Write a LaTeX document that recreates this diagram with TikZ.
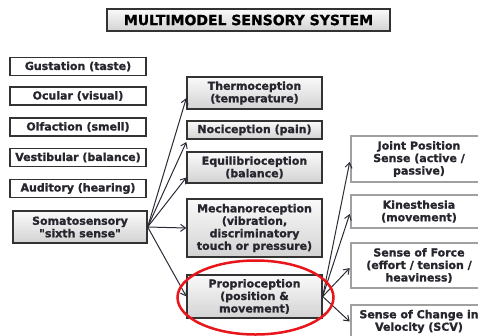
\documentclass[tikz,border=0pt]{standalone}
\usepackage{fontspec}
\newfontfamily\boxfont{DejaVu Sans Bold}[FakeBold=1.2]
\usetikzlibrary{arrows.meta}

\definecolor{boxline}{HTML}{333333}
\definecolor{boxtext}{HTML}{26262E}
\definecolor{arrowline}{HTML}{2B2B38}
\definecolor{paleline}{HTML}{A0A0A0}
\definecolor{ringred}{HTML}{E8161B}

\tikzset{
  sense/.style={draw=boxline, line width=1.3pt, fill=white, minimum width=136pt,
    inner sep=0pt, align=center, text=boxtext,
    font=\boxfont\fontsize{11}{12.5}\selectfont},
  shadedbox/.style={sense, top color=gray!4, bottom color=gray!35},
  subsense/.style={sense, draw=paleline, line width=2.6pt},
  link/.style={draw=arrowline, line width=1pt, -{Straight Barb[length=5pt,width=7pt]}}
}

\begin{document}
\begin{tikzpicture}[x=1pt,y=-1pt]
  % Boundary
  \useasboundingbox (0,0) rectangle (478,335);
  \clip (0,0) rectangle (478,335);
  % Title
  \node[shadedbox, minimum width=283pt, minimum height=22pt,
    font=\boxfont\fontsize{14}{16}\selectfont, text=black] (title) at (248.5,20) {MULTIMODEL SENSORY SYSTEM};
  % Senses
  \node[sense, minimum height=18pt] (gust) at (78,66.5) {Gustation (taste)};
  \node[sense, minimum height=18pt] (ocul) at (78,96) {Ocular (visual)};
  \node[sense, minimum height=18pt] (olfa) at (78,127) {Olfaction (smell)};
  \node[sense, minimum height=18pt] (vest) at (78,157.5) {Vestibular (balance)};
  \node[sense, minimum height=18pt] (audi) at (78,188.5) {Auditory (hearing)};
  \node[shadedbox, minimum width=134pt, minimum height=32pt] (soma) at (80,227) {Somatosensory\\"sixth sense"};
  % Somatosensory branches
  \node[shadedbox, minimum width=135pt, minimum height=32pt] (thermo) at (254.5,93) {Thermoception\\(temperature)};
  \node[shadedbox, minimum width=135pt, minimum height=18pt] (noci) at (254.5,130) {Nociception (pain)};
  \node[shadedbox, minimum width=135pt, minimum height=31pt] (equi) at (254.5,167.5) {Equilibrioception\\(balance)};
  \node[shadedbox, minimum width=135pt, minimum height=58pt] (mech) at (254.5,228) {Mechanoreception\\(vibration,\\discriminatory\\touch or pressure)};
  \node[shadedbox, minimum width=135pt, minimum height=43pt] (prop) at (254.5,296.5) {Proprioception\\(position \&\\movement)};
  % Proprioception branches
  \node[subsense, minimum height=46pt] (joint) at (419,159) {Joint Position\\Sense (active /\\passive)};
  \node[subsense, minimum height=33pt] (kine) at (419,211.5) {Kinesthesia\\(movement)};
  \node[subsense, minimum height=45pt] (force) at (419,265.5) {Sense of Force\\(effort / tension /\\heaviness)};
  \node[subsense, minimum height=33pt] (scv) at (419,321.5) {Sense of Change in\\Velocity (SCV)};
  % Arrows
  \draw[link] (soma.east) -- ([yshift=-5pt]thermo.west);
  \draw[link] (soma.east) -- ([yshift=-12pt]noci.west);
  \draw[link] (soma.east) -- ([yshift=-10pt]equi.west);
  \draw[link] (soma.east) -- (mech.west);
  \draw[link] (soma.east) -- (prop.west);
  \draw[link] (prop.east) -- ([yshift=-3pt]joint.west);
  \draw[link] (prop.east) -- ([yshift=-2.5pt]kine.west);
  \draw[link] (prop.east) -- ([yshift=-2.5pt]force.west);
  \draw[link] (prop.east) -- (scv.west);
  % Highlight
  \draw[ringred, line width=2.5pt] (255.5,297.5) ellipse [x radius=78, y radius=37];
\end{tikzpicture}
\end{document}
